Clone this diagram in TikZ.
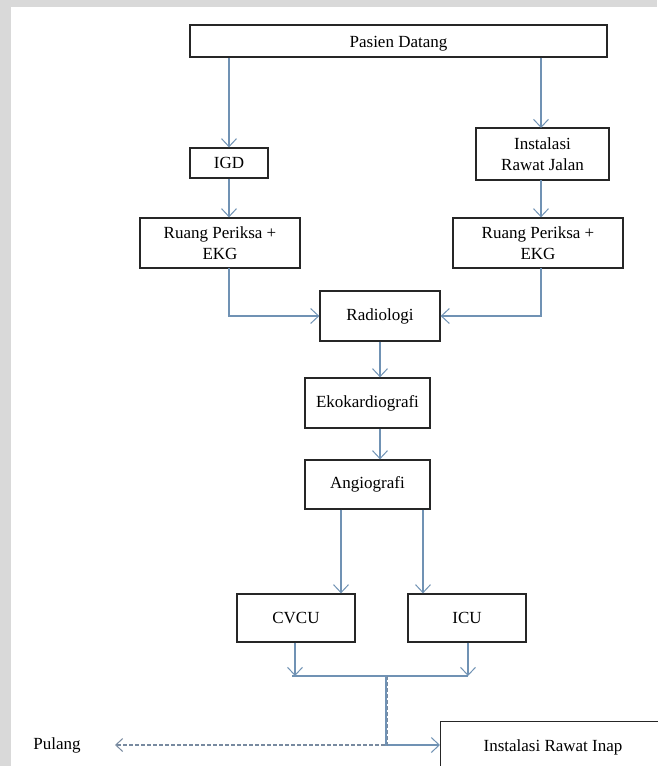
\documentclass[tikz,border=0pt]{standalone}
\usepackage{fontspec}
\setmainfont{Liberation Serif}
\usetikzlibrary{arrows.meta}
\definecolor{flow}{RGB}{112,146,180}
\definecolor{dashflow}{RGB}{120,138,160}
\definecolor{frame}{RGB}{217,217,217}
\begin{document}
\begin{tikzpicture}[x=1pt,y=-1pt,
  box/.style={draw=black!85,line width=1.3pt,fill=white,inner sep=2pt,align=center,
    font=\fontsize{17}{21}\selectfont},
  lbl/.style={inner sep=0pt,font=\fontsize{17}{21}\selectfont},
  tip/.style={-{Straight Barb[length=8pt,width=15pt,line width=1pt]}},
  link/.style={draw=flow,line width=1.2pt,tip},
  plain/.style={draw=flow,line width=1.2pt}]
% page and frame bands
\useasboundingbox (0,0) rectangle (657,766);
\fill[white] (0,0) rectangle (657,766);
\fill[frame] (0,0) rectangle (657,7);
\fill[frame] (0,0) rectangle (11,766);

% boxes
\node[box,minimum width=417,minimum height=32] (pd) at (398.5,41)
  {\raisebox{-6pt}[0pt][0pt]{Pasien Datang}};
\node[box,minimum width=78,minimum height=30] (igd) at (229,163) {IGD};
\node[box,minimum width=133,minimum height=52] (irj) at (542.5,154) {Instalasi\\Rawat Jalan};
\node[box,minimum width=160,minimum height=50] (rpl) at (220,243) {Ruang Periksa +\\EKG};
\node[box,minimum width=170,minimum height=50] (rpr) at (538,243) {Ruang Periksa +\\EKG};
\node[box,minimum width=120,minimum height=50] (rad) at (380,316) {Radiologi};
\node[box,minimum width=125,minimum height=50] (eko) at (367.5,403) {Ekokardiografi};
\node[box,minimum width=125,minimum height=49] (ang) at (367.5,484.5) {Angiografi};
\node[box,minimum width=118,minimum height=48] (cvcu) at (296,618) {CVCU};
\node[box,minimum width=118,minimum height=48] (icu) at (467,618) {ICU};
\node[box,minimum width=260,minimum height=70,anchor=north west] (inap) at (440,721) {};
\node[lbl] (inaptext) at (553,747) {Instalasi Rawat Inap};
\node[lbl] (pulang) at (57,745) {Pulang};

% junction points
\coordinate (jl) at (292,676);
\coordinate (jr) at (468,676);
\coordinate (jm) at (386,676);
\coordinate (jb) at (386,745);
\coordinate (pul) at (115,745);

% connectors
\draw[link] (pd.south -| igd) -- (igd.north);
\draw[link] (pd.south -| 541,0) -- (541,128);
\draw[link] (igd.south) -- (igd.south |- rpl.north);
\draw[link] (541,180) -- (rpr.north -| 541,0);
\draw[link] (229,268) |- (rad.west);
\draw[link] (541,268) |- (rad.east);
\draw[link] (rad.south) -- (rad.south |- eko.north);
\draw[link] (eko.south -| 380,0) -- (ang.north -| 380,0);
\draw[link] (ang.south -| 341,0) -- (cvcu.north -| 341,0);
\draw[link] (ang.south -| 423,0) -- (icu.north -| 423,0);
\draw[link] (cvcu.south -| 295,0) -- (295,676);
\draw[link] (icu.south -| jr) -- (jr);
\draw[plain] (jl) -- (jr);
\draw[link] (jm) -- (jb) -- (jb -| inap.west);
\draw[dashflow,line width=1.1pt,dash pattern=on 3.5pt off 2.5pt,
  -{Straight Barb[length=7pt,width=13pt,line width=1pt]}]
  ([xshift=1.5pt]jm) -- ([xshift=1.5pt]jb) -- (pul);
\end{tikzpicture}
\end{document}
